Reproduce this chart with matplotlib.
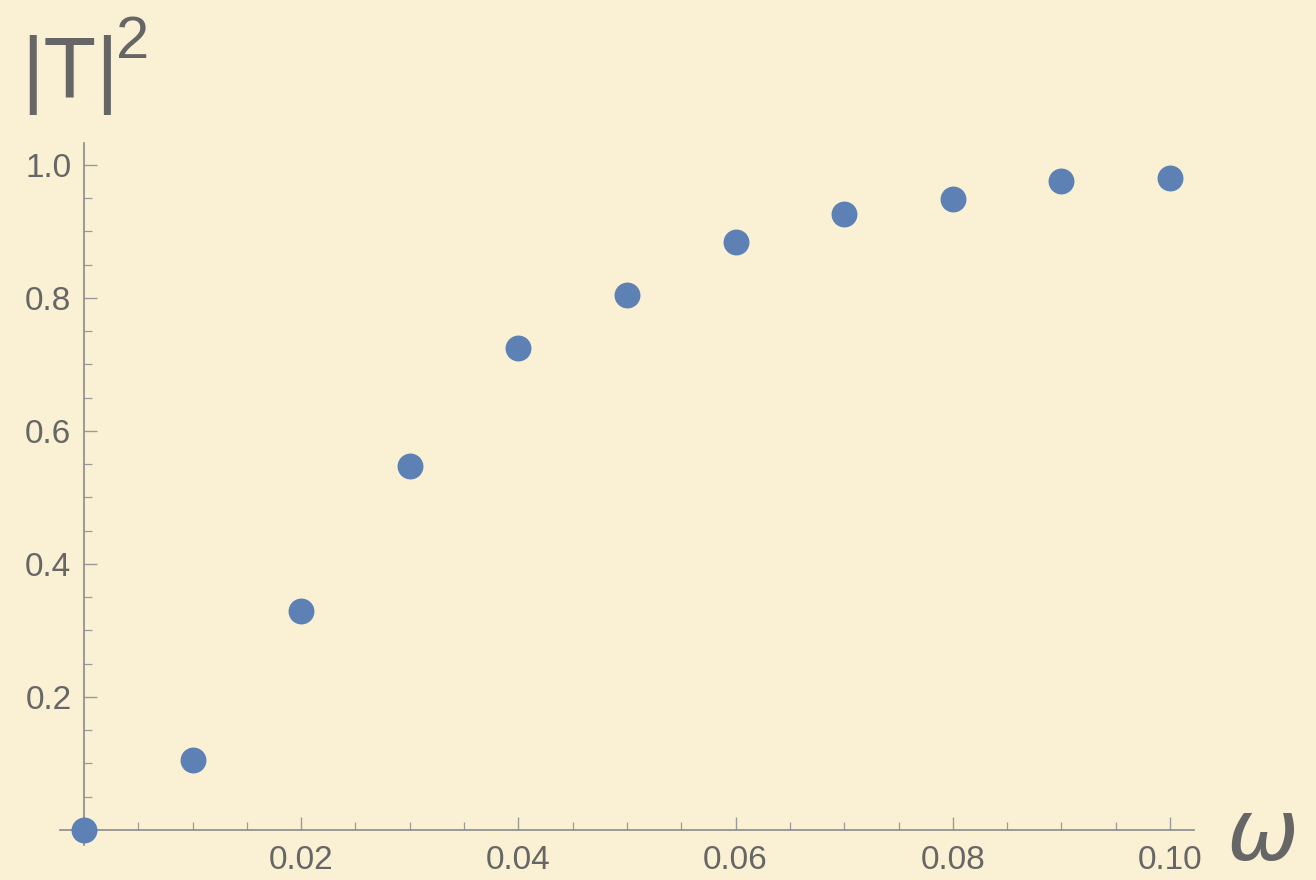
import numpy as np
import matplotlib
matplotlib.use("Agg")
import matplotlib.pyplot as plt
from matplotlib.ticker import MultipleLocator, FuncFormatter

# data
omega = [0.0, 0.01, 0.02, 0.03, 0.04, 0.05, 0.06, 0.07, 0.08, 0.09, 0.10]
T2 = [0.0, 0.105, 0.329, 0.547, 0.725, 0.804, 0.884, 0.926, 0.949, 0.976, 0.980]

bg = "#FAF1D4"
txt = "#666666"
axcol = "#8a8a8a"

plt.rcParams["font.family"] = ["Liberation Sans", "DejaVu Sans"]

fig = plt.figure(figsize=(13.16, 8.8), dpi=100, facecolor=bg)
W, H = 1316, 880
ax = fig.add_axes([60 / W, 35 / H, (1194 - 60) / W, (845 - 143) / H])
ax.set_facecolor(bg)

ax.scatter(omega, T2, s=22 ** 2 * 0.72, color="#5E81B5", zorder=5, clip_on=False, linewidths=0)

ax.set_xlim(-0.0022, 0.1022)
ax.set_ylim(-0.0226, 1.033)

for side in ["top", "right"]:
    ax.spines[side].set_visible(False)
ax.spines["left"].set_position(("data", 0))
ax.spines["bottom"].set_position(("data", 0))
for side in ["left", "bottom"]:
    ax.spines[side].set_color(axcol)
    ax.spines[side].set_linewidth(1.2)

ax.xaxis.set_major_locator(MultipleLocator(0.02))
ax.xaxis.set_minor_locator(MultipleLocator(0.005))
ax.yaxis.set_major_locator(MultipleLocator(0.2))
ax.yaxis.set_minor_locator(MultipleLocator(0.05))

ax.xaxis.set_major_formatter(FuncFormatter(lambda v, p: "" if abs(v) < 1e-9 else f"{v:.2f}"))
ax.yaxis.set_major_formatter(FuncFormatter(lambda v, p: "" if abs(v) < 1e-9 else f"{v:.1f}"))

ax.tick_params(axis="both", which="major", direction="in", length=9.5, width=1.0,
               color="#9a9a9a", labelcolor=txt, labelsize=24)
ax.tick_params(axis="both", which="minor", direction="in", length=5.5, width=0.9, color="#9a9a9a")
ax.tick_params(axis="x", which="major", pad=11)
ax.tick_params(axis="y", which="major", pad=9)

# axis labels, Mathematica style
fig.text(21 / W, 1 - 97 / H, "|T|", fontsize=62, color=txt, ha="left", va="baseline")
fig.text(116 / W, 1 - 58 / H, "2", fontsize=43, color=txt, ha="left", va="baseline")
fig.text(1226 / W, 1 - 860 / H, "ω", fontsize=62, color=txt, ha="left", va="baseline",
         fontstyle="italic", family=["DejaVu Sans"])

fig.savefig("out.png", dpi=100, facecolor=bg)
